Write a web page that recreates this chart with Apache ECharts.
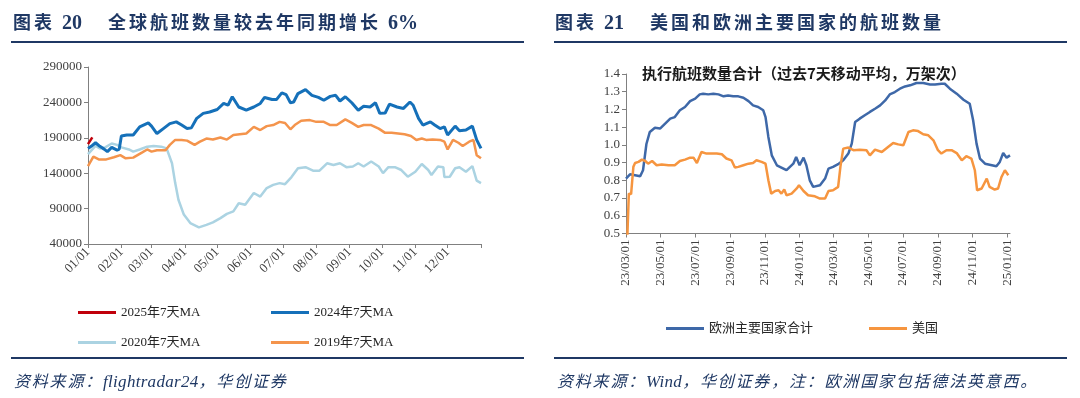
<!DOCTYPE html>
<html>
<head>
<meta charset="utf-8">
<script src="https://cdn.jsdelivr.net/npm/echarts@6/dist/echarts.min.js"></script>
<style>
  body { margin: 0; background: #fff; }
  #wrap { position: relative; width: 1080px; height: 398px; overflow: hidden; }
  #chart { position: absolute; left: 0; top: 0; width: 1080px; height: 398px; }
  .hd { position: absolute; top: 10px; line-height: 22px; font-size: 18px; font-weight: bold;
        color: #1f3864; font-family: "Noto Sans CJK SC", sans-serif; letter-spacing: 3px; white-space: nowrap; }
  .num { font-family: "Liberation Serif", serif; font-size: 20px; letter-spacing: 0; }
  .rule { position: absolute; height: 2px; background: #1f3864; }
  .src { position: absolute; top: 370px; line-height: 20px; font-size: 16px; font-style: italic;
         color: #1f3864; font-family: "Noto Sans CJK SC", sans-serif; letter-spacing: 1.8px; white-space: nowrap; }
  .src .en { font-family: "Liberation Serif", serif; font-size: 17px; letter-spacing: 0.3px; }
</style>
</head>
<body>
<div id="wrap">
  <div id="chart"></div>
  <div class="hd" style="left:13px">图表 <span class="num">20</span></div>
  <div class="hd" style="left:108px">全球航班数量较去年同期增长 <span class="num">6%</span></div>
  <div class="hd" style="left:555px">图表 <span class="num">21</span></div>
  <div class="hd" style="left:650px">美国和欧洲主要国家的航班数量</div>
  <div class="rule" style="left:11px;width:513px;top:41px"></div>
  <div class="rule" style="left:554px;width:513px;top:41px"></div>
  <div class="rule" style="left:11px;width:513px;top:357px"></div>
  <div class="rule" style="left:554px;width:513px;top:357px"></div>
  <div class="src" style="left:14px">资料来源：<span class="en">flightradar24</span>，华创证券</div>
  <div class="src" style="left:557px">资料来源：<span class="en">Wind</span>，华创证券，注：欧洲国家包括德法英意西。</div>
</div>
<script>
// 左图：全球航班数量（7天MA），x 为一年中的第几天
var monthStarts = [0, 31, 59, 90, 120, 151, 181, 212, 243, 273, 304, 334, 365];
var monthLabels = ['01/01','02/01','03/01','04/01','05/01','06/01','07/01','08/01','09/01','10/01','11/01','12/01',''];

var s2025 = [[0,181000],[4,190500]];

var s2024 = [[0,175000],[3,178000],[7,183000],[11,178000],[15,174000],[18,170500],[22,176500],[27,172500],[29,174000],
  [31,192500],[36,194000],[42,194000],[48,205500],[56,211000],[59,206500],[64,196000],[70,203000],[76,210000],
  [82,212500],[87,208000],[92,203000],[96,204000],[101,217500],[107,224500],[113,226500],[120,230000],[126,238500],
  [130,236000],[134,248000],[140,233500],[147,229000],[154,233500],[160,238500],[164,247000],[171,244000],[175,244000],
  [180,253500],[184,251000],[188,239500],[191,240500],[195,252500],[202,258000],[208,250000],[214,247000],[219,243000],
  [225,248500],[230,250000],[234,242000],[239,248000],[245,239500],[251,229000],[256,234500],[262,233500],[267,239500],
  [271,224500],[276,225000],[280,237500],[287,233500],[293,231500],[299,240500],[302,236000],[307,217500],[311,208000],
  [318,212500],[322,208000],[327,203000],[331,205500],[334,194000],[341,206500],[345,200000],[351,201000],[357,206500],
  [361,187000],[365,175000]];

var s2020 = [[0,167000],[7,178500],[11,175000],[16,176500],[22,182000],[27,180000],[31,176500],[38,173500],[42,170500],
  [48,173500],[55,177500],[61,178500],[68,177500],[73,175000],[78,154000],[81,126000],[84,102500],[89,81500],[95,69500],
  [103,63500],[110,67000],[116,70500],[123,76500],[129,82500],[135,86000],[140,97500],[146,95500],[154,112000],
  [160,107000],[166,119000],[172,123500],[178,126000],[183,124500],[189,134500],[195,147000],[202,148500],[209,143500],
  [215,143500],[222,154000],[228,151500],[234,154000],[240,148500],[246,149500],[251,154000],[256,149500],[263,156500],
  [270,149500],[274,140000],[279,148500],[285,148500],[291,144500],[297,135000],[304,142000],[310,153000],[316,144500],
  [319,137500],[325,149500],[330,148500],[331,134500],[336,135000],[341,147000],[345,148500],[351,142000],[357,150000],
  [361,129500],[365,126000]];

var s2019 = [[0,150000],[5,163500],[10,159500],[17,159500],[24,162500],[30,165500],[35,161000],[42,162000],[50,169000],
  [55,173500],[59,170500],[64,172500],[72,172500],[76,180000],[81,187000],[87,187000],[92,186000],[99,180000],
  [104,184500],[110,189000],[116,187500],[123,190500],[129,187500],[135,194000],[141,195000],[147,196000],[154,205500],
  [160,201000],[166,206500],[172,208000],[178,212500],[183,211000],[188,202000],[192,208000],[198,214000],[206,215000],
  [212,212500],[219,212500],[225,208000],[231,208000],[239,216000],[245,211000],[251,205500],[256,208000],[263,208000],
  [270,203000],[276,197000],[282,197000],[288,196000],[294,195000],[300,192500],[305,187000],[310,189000],[314,187000],
  [320,187500],[327,187000],[331,184500],[334,173500],[339,187000],[344,183000],[348,178500],[354,184500],[358,187000],
  [361,165500],[365,161000]];

// 右图：执行航班数量（万架次），x 为距 2023-03-01 的天数
var startDate = '2023-03-01';
var tickDates = ['2023-03-01','2023-05-01','2023-07-01','2023-09-01','2023-11-01','2024-01-01',
                 '2024-03-01','2024-05-01','2024-07-01','2024-09-01','2024-11-01','2025-01-01'];
var tickLabels = ['23/03/01','23/05/01','23/07/01','23/09/01','23/11/01','24/01/01',
                  '24/03/01','24/05/01','24/07/01','24/09/01','24/11/01','25/01/01'];

var europe = [[0,0.81],[7,0.834],[16,0.829],[25,0.823],[30,0.857],[36,1.005],[42,1.073],[51,1.097],[60,1.092],[69,1.12],
  [78,1.148],[86,1.157],[95,1.195],[104,1.214],[113,1.247],[122,1.261],[130,1.285],[136,1.289],[145,1.285],[154,1.289],
  [163,1.285],[172,1.274],[180,1.279],[189,1.274],[198,1.274],[207,1.266],[216,1.247],[224,1.223],[233,1.214],[242,1.195],
  [246,1.157],[251,1.045],[257,0.941],[266,0.885],[274,0.872],[283,0.857],[289,0.876],[295,0.894],[300,0.932],[306,0.885],
  [313,0.928],[318,0.885],[324,0.8],[330,0.763],[342,0.772],[351,0.81],[357,0.866],[365,0.876],[374,0.891],[383,0.913],
  [392,0.951],[398,1.007],[404,1.129],[412,1.148],[421,1.167],[430,1.186],[439,1.204],[448,1.223],[457,1.251],[465,1.285],
  [474,1.298],[483,1.317],[492,1.33],[501,1.336],[512,1.349],[524,1.349],[536,1.341],[545,1.341],[556,1.345],[562,1.345],
  [571,1.317],[583,1.289],[595,1.255],[606,1.232],[612,1.139],[618,1.007],[624,0.923],[633,0.894],[645,0.885],[653,0.879],
  [659,0.904],[665,0.954],[671,0.928],[677,0.941]];

var usa = [[2,0.45],[5,0.725],[9,0.722],[13,0.876],[16,0.898],[22,0.904],[28,0.917],[34,0.909],[39,0.894],[46,0.909],
  [54,0.885],[63,0.889],[75,0.885],[86,0.885],[95,0.909],[104,0.917],[113,0.928],[119,0.928],[125,0.898],[133,0.96],
  [142,0.951],[151,0.951],[160,0.951],[169,0.947],[177,0.923],[186,0.913],[192,0.872],[198,0.876],[207,0.885],[216,0.894],
  [224,0.898],[230,0.913],[239,0.904],[246,0.894],[251,0.8],[256,0.725],[263,0.74],[269,0.744],[274,0.725],[279,0.748],
  [283,0.716],[292,0.725],[301,0.754],[305,0.772],[313,0.74],[321,0.716],[333,0.71],[342,0.697],[351,0.697],[357,0.74],
  [365,0.744],[374,0.763],[378,0.876],[383,0.979],[392,0.985],[401,0.97],[412,0.973],[424,0.97],[430,0.941],[439,0.973],
  [451,0.96],[462,0.988],[471,1.011],[480,1.003],[489,0.998],[498,1.073],[506,1.082],[515,1.078],[524,1.06],[533,1.054],
  [542,1.026],[550,0.97],[556,0.951],[565,0.97],[574,0.97],[583,0.954],[592,0.913],[600,0.936],[609,0.923],[615,0.857],
  [619,0.744],[627,0.754],[636,0.81],[641,0.763],[650,0.748],[656,0.754],[662,0.819],[668,0.857],[674,0.829]];

function dayOffset(d) {
  return Math.round((Date.parse(d) - Date.parse(startDate)) / 86400000);
}
var tickDays = tickDates.map(dayOffset);

var labelFont = { fontFamily: 'Liberation Serif', fontSize: 13, color: '#404040' };
var axisLineStyle = { lineStyle: { color: '#808080', width: 1 } };

function legendAt(name, left, top) {
  return {
    data: [name], left: left, top: top, padding: 0,
    icon: 'rect', itemWidth: 38, itemHeight: 3,
    textStyle: { fontFamily: 'Liberation Serif, Noto Sans CJK SC', fontSize: 13, color: '#262626' }
  };
}

var chart = echarts.init(document.getElementById('chart'));
var option = {
  animation: false,
  backgroundColor: '#fff',
  title: {
    text: '执行航班数量合计（过去7天移动平均，万架次）',
    left: 642, top: 66, padding: 0,
    textStyle: { fontFamily: 'Noto Sans CJK SC', fontSize: 15, fontWeight: 'bold', color: '#1a1a1a' }
  },
  legend: [
    legendAt('2025年7天MA', 78, 306),
    legendAt('2024年7天MA', 271, 306),
    legendAt('2020年7天MA', 78, 336),
    legendAt('2019年7天MA', 271, 336),
    legendAt('欧洲主要国家合计', 666, 322),
    legendAt('美国', 869, 322)
  ],
  grid: [
    { left: 88, top: 67, width: 393, height: 177 },
    { left: 626, top: 74, width: 384, height: 159.5 }
  ],
  xAxis: [
    {
      type: 'value', gridIndex: 0, min: 0, max: 365,
      axisLine: axisLineStyle,
      axisTick: { show: true, length: 4, customValues: monthStarts, lineStyle: { color: '#808080' } },
      axisLabel: Object.assign({
        rotate: 45, margin: 6, customValues: monthStarts.slice(0, 12),
        formatter: function (v) { var i = monthStarts.indexOf(v); return i >= 0 ? monthLabels[i] : ''; }
      }, labelFont),
      splitLine: { show: false }
    },
    {
      type: 'value', gridIndex: 1, min: 0, max: 677,
      axisLine: axisLineStyle,
      axisTick: { show: true, length: 4, customValues: tickDays, lineStyle: { color: '#808080' } },
      axisLabel: Object.assign({
        rotate: 90, margin: 6, customValues: tickDays,
        formatter: function (v) { var i = tickDays.indexOf(v); return i >= 0 ? tickLabels[i] : ''; }
      }, labelFont),
      splitLine: { show: false }
    }
  ],
  yAxis: [
    {
      type: 'value', gridIndex: 0, min: 40000, max: 290000, interval: 50000,
      axisLine: Object.assign({ show: true }, axisLineStyle),
      axisTick: { show: true, length: 4, lineStyle: { color: '#808080' } },
      axisLabel: Object.assign({ margin: 6, formatter: function (v) { return String(v); } }, labelFont),
      splitLine: { show: false }
    },
    {
      type: 'value', gridIndex: 1, min: 0.5, max: 1.4, interval: 0.1,
      axisLine: Object.assign({ show: true }, axisLineStyle),
      axisTick: { show: true, length: 4, lineStyle: { color: '#808080' } },
      axisLabel: Object.assign({ margin: 6, formatter: function (v) { return v.toFixed(1); } }, labelFont),
      splitLine: { show: false }
    }
  ],
  series: [
    { name: '2020年7天MA', type: 'line', xAxisIndex: 0, yAxisIndex: 0, data: s2020, symbol: 'none',
      lineStyle: { color: '#abd3e2', width: 2.5 }, itemStyle: { color: '#abd3e2' } },
    { name: '2019年7天MA', type: 'line', xAxisIndex: 0, yAxisIndex: 0, data: s2019, symbol: 'none',
      lineStyle: { color: '#f4944c', width: 2.5 }, itemStyle: { color: '#f4944c' } },
    { name: '2024年7天MA', type: 'line', xAxisIndex: 0, yAxisIndex: 0, data: s2024, symbol: 'none',
      lineStyle: { color: '#1570b9', width: 3 }, itemStyle: { color: '#1570b9' } },
    { name: '2025年7天MA', type: 'line', xAxisIndex: 0, yAxisIndex: 0, data: s2025, symbol: 'none',
      lineStyle: { color: '#c0000b', width: 2.5 }, itemStyle: { color: '#c0000b' } },
    { name: '欧洲主要国家合计', type: 'line', xAxisIndex: 1, yAxisIndex: 1, data: europe, symbol: 'none',
      lineStyle: { color: '#3e68a8', width: 2.5 }, itemStyle: { color: '#3e68a8' } },
    { name: '美国', type: 'line', xAxisIndex: 1, yAxisIndex: 1, data: usa, symbol: 'none',
      lineStyle: { color: '#f6953f', width: 2.5 }, itemStyle: { color: '#f6953f' } }
  ]
};
chart.setOption(option);
</script>
</body>
</html>
